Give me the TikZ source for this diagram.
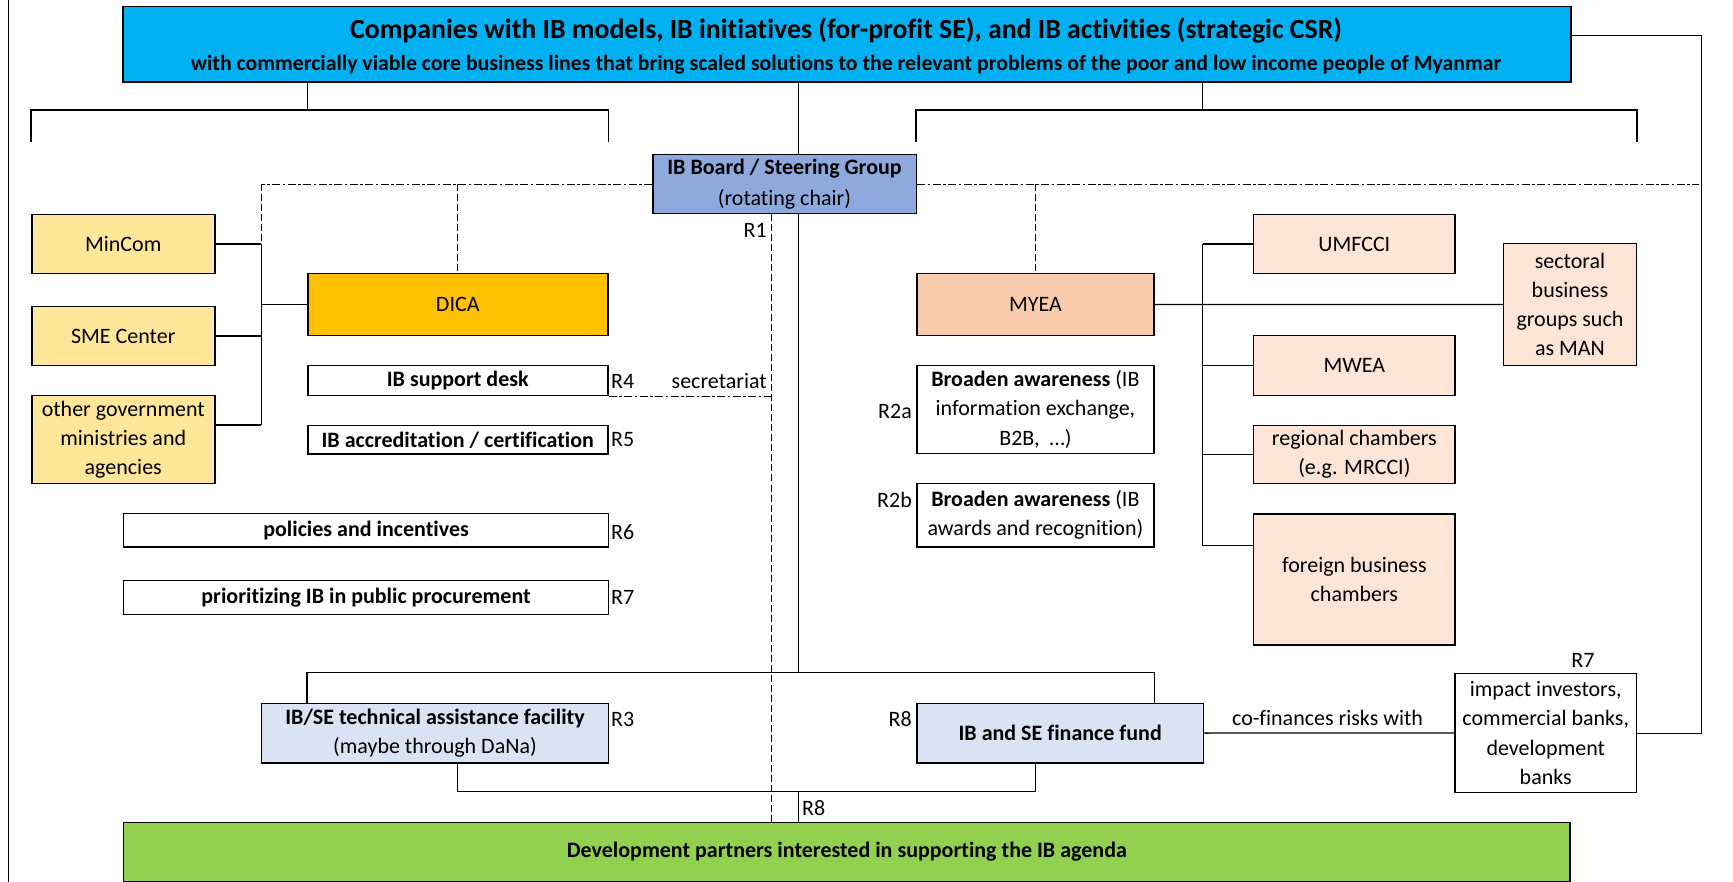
\documentclass[tikz,border=0pt]{standalone}
\usepackage{fontspec}
\setmainfont{Carlito}[Ligatures=NoCommon]
\usetikzlibrary{calc}
\definecolor{cTop}{HTML}{00B0F0}
\definecolor{cBoard}{HTML}{8EA9DB}
\definecolor{cYel}{HTML}{FFE699}
\definecolor{cDica}{HTML}{FFC000}
\definecolor{cMyea}{HTML}{F8CBAD}
\definecolor{cPeach}{HTML}{FCE4D6}
\definecolor{cLBlue}{HTML}{DAE3F3}
\definecolor{cGreen}{HTML}{92D050}
\newcommand\bodyfont{\fontsize{22}{29.3}\selectfont}
\begin{document}
\begin{tikzpicture}[x=1pt,y=-1pt,
 box/.style={draw=black, line width=1.5pt, inner sep=0pt, align=center, anchor=north west, font=\bodyfont},
 conn/.style={line width=1.3pt},
 thinl/.style={line width=0.9pt},
 dashdot/.style={line width=1.2pt, dash pattern=on 8pt off 2.5pt on 2.5pt off 2.5pt},
 dashv/.style={line width=0.9pt, dash pattern=on 7pt off 3pt},
 lbl/.style={font=\bodyfont, inner sep=0pt}]
\useasboundingbox (0,0) rectangle (1733,882);
\fill[white] (0,0) rectangle (1733,882);
% boxes
\node[box, fill=cTop, minimum width=1448pt, minimum height=75.5pt] (top) at (122,6) {};
\node[font=\fontsize{27.8}{31}\selectfont\bfseries, anchor=base, inner sep=0pt] (title) at (846,39) {Companies with IB models, IB initiatives (for-profit SE), and IB activities (strategic CSR)};
\node[font=\fontsize{21.8}{24}\selectfont\bfseries, anchor=base, inner sep=0pt] (subtitle) at (846,70.5) {with commercially viable core business lines that bring scaled solutions to the relevant problems of the poor and low income people of Myanmar};
\node[box, fill=cBoard, minimum width=263.5pt, minimum height=59pt] (board) at (652,154) {\textbf{IB Board / Steering Group}\\[1.5pt](rotating chair)};
\node[box, fill=cYel, minimum width=183pt, minimum height=58.7pt] (mincom) at (31,214) {MinCom};
\node[box, fill=cYel, minimum width=183pt, minimum height=58.7pt] (sme) at (31,306) {SME Center};
\node[box, fill=cYel, minimum width=183pt, minimum height=87.7pt] (othergov) at (31,395) {other government\\ministries and\\agencies};
\node[box, fill=cDica, minimum width=300pt, minimum height=62.3pt] (dica) at (307,272.7) {DICA};
\node[box, fill=white, minimum width=300pt, minimum height=30pt] (desk) at (307,364.7) {\textbf{IB support desk}};
\node[box, fill=white, minimum width=300pt, minimum height=28.3pt] (accr) at (307,425) {\textbf{IB accreditation / certification}};
\node[box, fill=white, minimum width=485pt, minimum height=33.3pt] (policies) at (122.8,512.7) {\textbf{policies and incentives}};
\node[box, fill=white, minimum width=485pt, minimum height=34pt] (procure) at (122.8,579.7) {\textbf{prioritizing IB in public procurement}};
\node[box, fill=cLBlue, minimum width=347.2pt, minimum height=59.3pt] (ta) at (260.6,702.7) {\textbf{IB/SE technical assistance facility}\\(maybe through DaNa)};
\node[box, fill=cGreen, minimum width=1446.6pt, minimum height=59pt] (green) at (122.8,821.7) {\textbf{Development partners interested in supporting the IB agenda}};
\node[box, fill=cMyea, minimum width=237.3pt, minimum height=62.3pt] (myea) at (916,272.7) {MYEA};
\node[box, fill=white, minimum width=237.3pt, minimum height=88pt] (aw1) at (916,364.7) {\textbf{Broaden awareness} (IB\\information exchange,\\B2B,~~\ldots)};
\node[box, fill=white, minimum width=237.3pt, minimum height=63.3pt] (aw2) at (916,482.7) {\textbf{Broaden awareness} (IB\\awards and recognition)};
\node[box, fill=cLBlue, minimum width=286.8pt, minimum height=59.3pt] (fund) at (916,702.7) {\textbf{IB and SE finance fund}};
\node[box, fill=cPeach, minimum width=201.6pt, minimum height=58.7pt] (umfcci) at (1252.8,214) {UMFCCI};
\node[box, fill=cPeach, minimum width=201.6pt, minimum height=59.7pt] (mwea) at (1252.8,335) {MWEA};
\node[box, fill=cPeach, minimum width=201.6pt, minimum height=57.7pt] (regional) at (1252.8,425) {regional chambers\\(e.g. MRCCI)};
\node[box, fill=cPeach, minimum width=201.6pt, minimum height=131pt] (foreign) at (1252.8,513) {foreign business\\chambers};
\node[box, fill=cPeach, minimum width=132.8pt, minimum height=122pt] (sectoral) at (1502.8,242.7) {sectoral\\business\\groups such\\as MAN};
\node[box, fill=white, minimum width=181.2pt, minimum height=119pt] (impact) at (1454.4,672.7) {impact investors,\\commercial banks,\\development\\banks};
% labels
\node[lbl, anchor=east] (r1) at (767,230.7) {R1};
\node[lbl, anchor=west] (r4) at (611,381) {R4};
\node[lbl, anchor=east] (secr) at (767,381) {secretariat};
\node[lbl, anchor=west] (r5) at (611,440) {R5};
\node[lbl, anchor=west] (r6) at (611,531.7) {R6};
\node[lbl, anchor=west] (r7) at (611,597) {R7};
\node[lbl, anchor=west] (r3) at (611,719.3) {R3};
\node[lbl, anchor=east] (r2a) at (912,411) {R2a};
\node[lbl, anchor=east] (r2b) at (912,500) {R2b};
\node[lbl, anchor=east] (r8a) at (912,719.3) {R8};
\node[lbl, anchor=west] (r8b) at (802,808) {R8};
\node[lbl] (r7b) at (1583,660.3) {R7};
\node[lbl] (cofin) at (1327.6,718.3) {co-finances risks with};
% helper coordinates
\coordinate (b1) at (0,110);
\coordinate (b2) at (0,142);
\coordinate (cx) at (798,0);
\coordinate (busL) at (261,0);
\coordinate (busR) at (1202.8,0);
\coordinate (dx) at (771.7,0);
\coordinate (brk) at (0,672.7);
\coordinate (lowb) at (0,791.7);
\coordinate (ogc) at (0,425);
\coordinate (fcc) at (0,545.7);
\coordinate (rr) at (1701.7,35);
\coordinate (ddR) at (1699,0);
\coordinate (lbt) at (8.3,0);
\coordinate (lbb) at (8.3,882);
% connectors
\draw[thinl] (lbt) -- (lbb);
\draw[thinl] (top.south -| dica.west) -- (dica.west |- b1);
\draw[conn] (mincom.west |- b2) -- (mincom.west |- b1) -- (dica.east |- b1) -- (dica.east |- b2);
\draw[thinl] (top.south -| busR) -- (busR |- b1);
\draw[conn] (myea.west |- b2) -- (myea.west |- b1) -- (sectoral.east |- b1) -- (sectoral.east |- b2);
\draw[thinl] (top.south -| cx) -- (board.north -| cx);
\draw[thinl] (board.south -| cx) -- (cx |- brk);
\draw[conn] (ta.north -| dica.west) -- (dica.west |- brk) -- (myea.east |- brk) -- (fund.north -| myea.east);
\draw[conn] (ta.south -| dica.south) -- (dica.south |- lowb) -- (myea.south |- lowb) -- (fund.south -| myea.south);
\draw[thinl] (cx |- lowb) -- (green.north -| cx);
\draw[dashv] (board.south -| dx) -- (green.north -| dx);
\draw[dashdot] (board.west) -- (busL |- board.west);
\draw[dashv] (busL |- board.west) -- (busL |- mincom.east);
\draw[dashv] (dica.north |- board.west) -- (dica.north);
\draw[dashdot] (board.east) -- (ddR |- board.east);
\draw[dashv] (myea.north |- board.east) -- (myea.north);
\draw[dashdot] (desk.south east) -- (dx |- desk.south);
\draw[conn] (mincom.east) -- (busL |- mincom.east);
\draw[conn] (sme.east) -- (busL |- sme.east);
\draw[conn] (othergov.east |- ogc) -- (busL |- ogc);
\draw[thinl] (busL |- mincom.east) -- (busL |- ogc);
\draw[conn] (busL |- dica.west) -- (dica.west);
\draw[thinl] (busR |- umfcci.west) -- (busR |- fcc);
\draw[conn] (busR |- umfcci.west) -- (umfcci.west);
\draw[conn] (busR |- mwea.west) -- (mwea.west);
\draw[conn] (busR |- regional.west) -- (regional.west);
\draw[conn] (busR |- fcc) -- (foreign.west |- fcc);
\draw[conn] (myea.east) -- (sectoral.west);
\draw[conn] (fund.east) -- (impact.west);
\draw[thinl] (top.east |- rr) -- (rr) -- (rr |- impact.east) -- (impact.east);
\end{tikzpicture}
\end{document}
